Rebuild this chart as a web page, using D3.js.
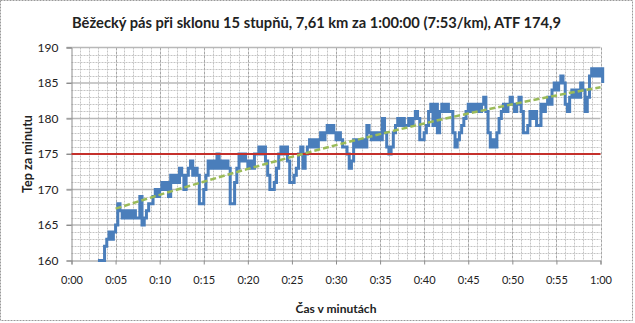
<!DOCTYPE html>
<html>
<head>
<meta charset="utf-8">
<script src="https://cdn.jsdelivr.net/npm/d3@7"></script>
<style>
  html, body { margin: 0; padding: 0; background: #fff; }
  svg { display: block; }
  text { font-family: Lato, "Open Sans", "Liberation Sans", sans-serif; fill: #222; }
</style>
</head>
<body>
<svg id="chart" width="635" height="323"></svg>
<script>
// Chart text
const chartTitle = "Běžecký pás při sklonu 15 stupňů, 7,61 km za 1:00:00 (7:53/km), ATF 174,9";
const xAxisTitle = "Čas v minutách";
const yAxisTitle = "Tep za minutu";

// Axis ticks
const xTickMinutes = [0, 5, 10, 15, 20, 25, 30, 35, 40, 45, 50, 55, 60];
const xTickLabels = ["0:00", "0:05", "0:10", "0:15", "0:20", "0:25", "0:30", "0:35", "0:40", "0:45", "0:50", "0:55", "1:00"];
const yTickValues = [160, 165, 170, 175, 180, 185, 190];

// Anaerobic threshold (ATF) reference line
const thresholdHR = 175;

// Heart rate, one row per minute, four samples per minute (every 15 s), from 3:00
const hrStartMinute = 3;
const hrSampleMinutes = 0.25;
const heartRate = [
  [160, 160, 160, 162], // 3
  [163, 164, 163, 164], // 4
  [165, 168, 167, 166], // 5
  [167, 166, 167, 166], // 6
  [167, 166, 166, 169], // 7
  [165, 166, 167, 168], // 8
  [168, 169, 170, 169], // 9
  [170, 171, 170, 171], // 10
  [169, 172, 171, 172], // 11
  [171, 173, 172, 170], // 12
  [172, 173, 174, 172], // 13
  [173, 172, 168, 168], // 14
  [170, 172, 174, 173], // 15
  [174, 173, 175, 173], // 16
  [174, 173, 174, 173], // 17
  [168, 168, 171, 173], // 18
  [175, 174, 175, 174], // 19
  [173, 174, 173, 175], // 20
  [175, 176, 175, 176], // 21
  [174, 172, 170, 170], // 22
  [171, 173, 175, 176], // 23
  [175, 176, 174, 171], // 24
  [171, 172, 173, 175], // 25
  [176, 173, 175, 176], // 26
  [177, 176, 177, 176], // 27
  [177, 178, 177, 178], // 28
  [179, 178, 179, 178], // 29
  [177, 178, 177, 176], // 30
  [176, 175, 173, 174], // 31
  [177, 176, 177, 176], // 32
  [177, 176, 179, 178], // 33
  [177, 178, 177, 178], // 34
  [177, 180, 178, 176], // 35
  [175, 176, 178, 179], // 36
  [180, 179, 180, 179], // 37
  [179, 180, 179, 180], // 38
  [181, 180, 177, 177], // 39
  [178, 179, 181, 182], // 40
  [179, 182, 178, 181], // 41
  [182, 181, 182, 181], // 42
  [181, 178, 176, 177], // 43
  [178, 179, 180, 181], // 44
  [182, 181, 182, 181], // 45
  [182, 181, 182, 183], // 46
  [181, 178, 176, 177], // 47
  [176, 178, 180, 181], // 48
  [182, 181, 182, 183], // 49
  [182, 181, 182, 183], // 50
  [181, 178, 178, 179], // 51
  [181, 180, 181, 179], // 52
  [179, 182, 181, 182], // 53
  [183, 182, 184, 185], // 54
  [184, 185, 186, 185], // 55
  [182, 181, 183, 184], // 56
  [183, 184, 183, 185], // 57
  [184, 181, 183, 186], // 58
  [187, 186, 187, 186], // 59
  [187, 185]            // 60
];

// Trend line through the heart rate
const trendMinutes = [5, 10, 15, 20, 25, 30, 35, 40, 45, 50, 55, 60];
const trendHR = [167.3, 169.25, 171.1, 172.9, 174.6, 176.25, 177.8, 179.3, 180.7, 182.0, 183.25, 184.4];

// ---- drawing ----
const W = 635, H = 323;
const svg = d3.select("#chart");

const x = d3.scaleLinear().domain([0, 60]).range([71.5, 600.5]);
const y = d3.scaleLinear().domain([160, 190]).range([260.5, 47.5]);

// chart area frame
svg.append("rect")
  .attr("x", 0.5).attr("y", 0.5).attr("width", W - 3).attr("height", H - 3)
  .attr("fill", "#fff").attr("stroke", "#9a9a9a").attr("stroke-dasharray", "2,1");

const grid = svg.append("g");

// minor horizontal grid (every beat)
grid.selectAll("line.hminor")
  .data(d3.range(161, 190).filter(v => v % 5 !== 0))
  .join("line")
  .attr("x1", x(0)).attr("x2", x(60))
  .attr("y1", d => Math.round(y(d)) + 0.5).attr("y2", d => Math.round(y(d)) + 0.5)
  .attr("stroke", "#c4c4c4").attr("stroke-dasharray", "2,1");

// minor vertical grid (every minute)
grid.selectAll("line.vminor")
  .data(d3.range(1, 60).filter(v => v % 5 !== 0))
  .join("line")
  .attr("x1", d => Math.round(x(d)) + 0.5).attr("x2", d => Math.round(x(d)) + 0.5)
  .attr("y1", y(190)).attr("y2", y(160))
  .attr("stroke", "#c4c4c4").attr("stroke-dasharray", "2,1");

// major vertical grid (every 5 minutes)
grid.selectAll("line.vmajor")
  .data(xTickMinutes.slice(1))
  .join("line")
  .attr("x1", d => Math.round(x(d)) + 0.5).attr("x2", d => Math.round(x(d)) + 0.5)
  .attr("y1", y(190)).attr("y2", y(160))
  .attr("stroke", "#a6a6a6").attr("stroke-dasharray", "3,1");

// major horizontal grid (every 5 beats)
grid.selectAll("line.hmajor")
  .data(yTickValues.slice(1))
  .join("line")
  .attr("x1", x(0) - 5).attr("x2", x(60))
  .attr("y1", d => y(d)).attr("y2", d => y(d))
  .attr("stroke", "#b8b8b8").attr("stroke-width", 1.5);

// axes
const xAxis = d3.axisBottom(x)
  .tickValues(xTickMinutes)
  .tickFormat((d, i) => xTickLabels[i])
  .tickSize(4).tickPadding(12);
const gx = svg.append("g").attr("transform", `translate(0,${y(160)})`).call(xAxis);
gx.select(".domain").attr("stroke", "#8c8c8c");
gx.selectAll(".tick line").attr("stroke", "#8c8c8c");
gx.selectAll(".tick text").attr("font-size", 11).attr("font-family", "Lato").attr("fill", "#222");

const yAxis = d3.axisLeft(y)
  .tickValues(yTickValues)
  .tickSize(5).tickPadding(8);
const gy = svg.append("g").attr("transform", `translate(${x(0)},0)`).call(yAxis);
gy.select(".domain").attr("stroke", "#8c8c8c");
gy.selectAll(".tick line").attr("stroke", "#8c8c8c");
gy.selectAll(".tick text").attr("font-size", 12).attr("font-family", "Lato").attr("fill", "#222");

// heart rate series (integer beats, held until the next sample)
const hrPoints = heartRate.flat().map((v, i) => ({ t: hrStartMinute + i * hrSampleMinutes, v }));
const hrLine = d3.line()
  .x(d => x(d.t)).y(d => y(d.v))
  .curve(d3.curveStepAfter);
svg.append("path")
  .datum(hrPoints)
  .attr("d", hrLine)
  .attr("fill", "none")
  .attr("stroke", "#4A7EBB")
  .attr("stroke-width", 3)
  .attr("stroke-linejoin", "miter");

// threshold line
svg.append("line")
  .attr("x1", x(0)).attr("x2", x(60))
  .attr("y1", y(thresholdHR)).attr("y2", y(thresholdHR))
  .attr("stroke", "#C4302B").attr("stroke-width", 2.2);

// trend line
const trendLine = d3.line()
  .x((d, i) => x(trendMinutes[i])).y(d => y(d))
  .curve(d3.curveMonotoneX);
svg.append("path")
  .datum(trendHR)
  .attr("d", trendLine)
  .attr("fill", "none")
  .attr("stroke", "#9BBB59")
  .attr("stroke-width", 2.5)
  .attr("stroke-dasharray", "6,3");

// titles, scaled to their measured widths
function fitText(sel, width) {
  const w = sel.node().getComputedTextLength();
  const fs = parseFloat(sel.attr("font-size"));
  sel.attr("font-size", (fs * width / w).toFixed(2));
}

const t = svg.append("text")
  .attr("x", 316.5).attr("y", 27.5)
  .attr("text-anchor", "middle")
  .attr("font-weight", "bold").attr("font-size", 14)
  .text(chartTitle);
fitText(t, 489);

const xt = svg.append("text")
  .attr("x", 336).attr("y", 313)
  .attr("text-anchor", "middle")
  .attr("font-weight", "bold").attr("font-size", 12)
  .text(xAxisTitle);
fitText(xt, 81);

const yt = svg.append("text")
  .attr("transform", "translate(31.5,154) rotate(-90)")
  .attr("text-anchor", "middle")
  .attr("font-weight", "bold").attr("font-size", 12)
  .text(yAxisTitle);
fitText(yt, 78);
</script>
</body>
</html>
